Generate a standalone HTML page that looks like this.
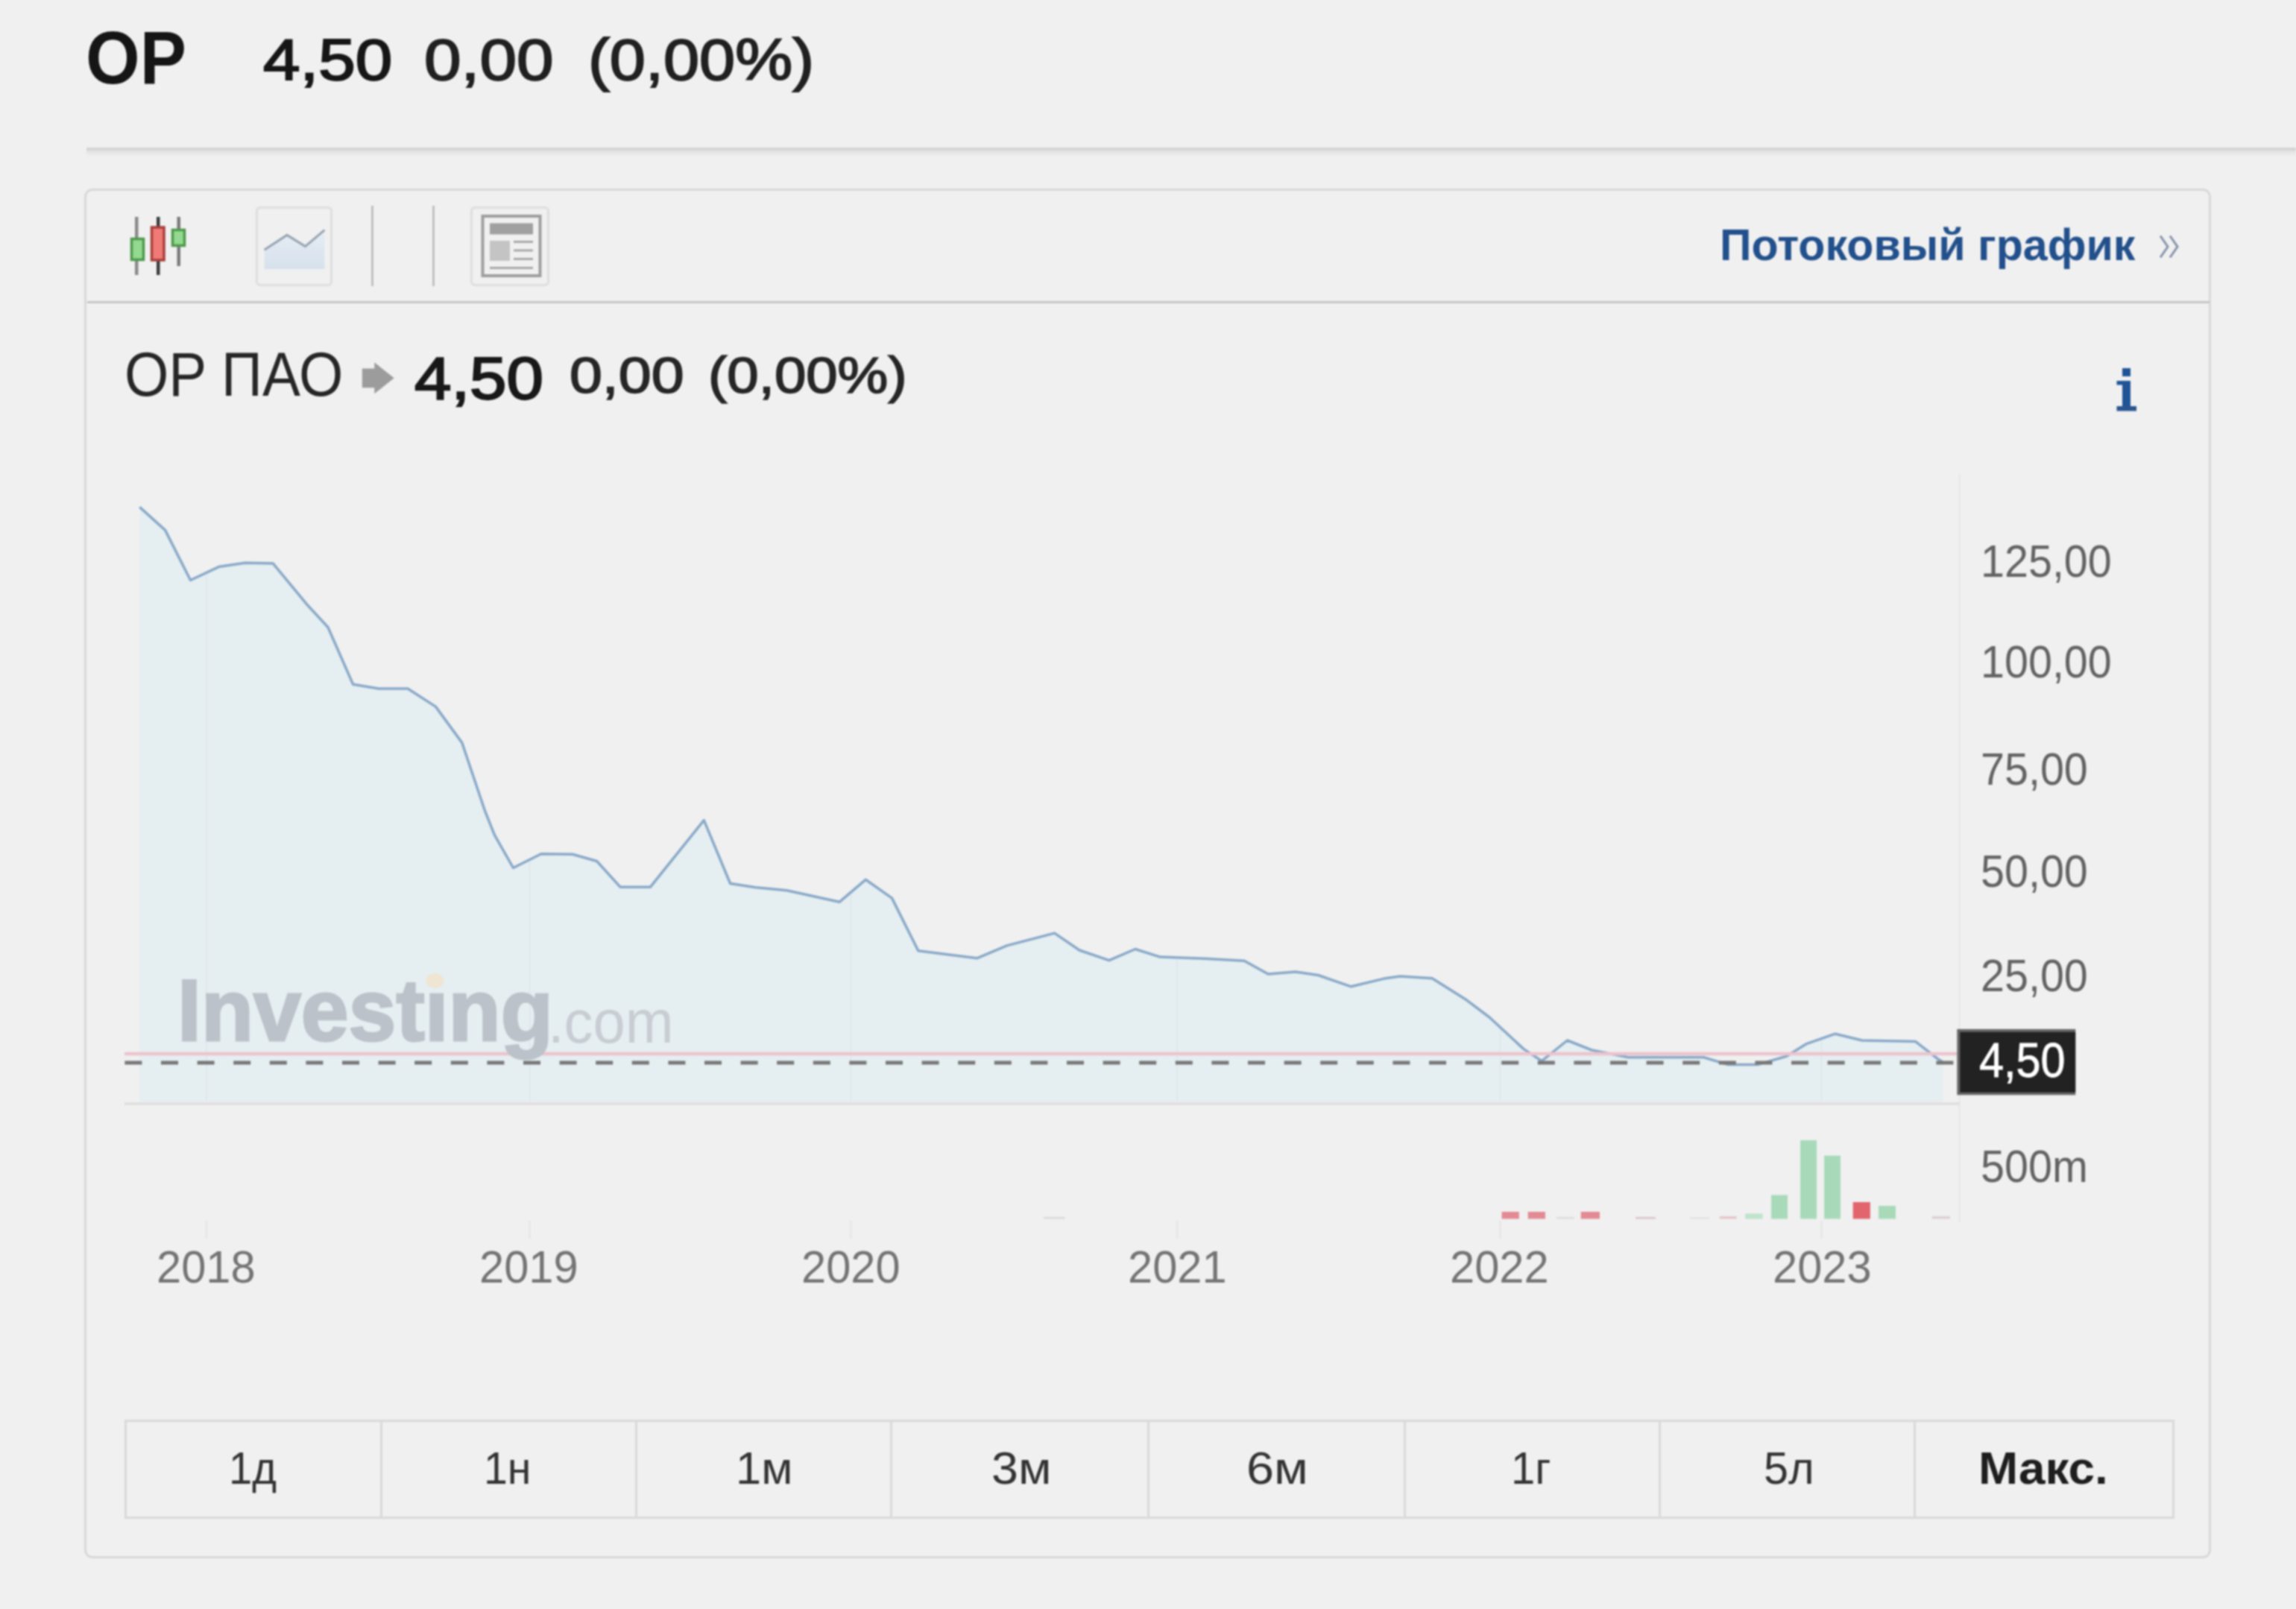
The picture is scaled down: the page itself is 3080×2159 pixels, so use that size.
<!DOCTYPE html>
<html><head><meta charset="utf-8">
<style>
html,body{margin:0;padding:0}
body{width:3080px;height:2159px;background:#f0f0f0;position:relative;overflow:hidden;font-family:"Liberation Sans",sans-serif}
.t{position:absolute;line-height:1;white-space:pre;transform-origin:0 0}
.abs{position:absolute}
</style></head><body>
<div id="w" style="position:absolute;left:0;top:0;width:3080px;height:2159px;background:#f0f0f0;filter:blur(0.8px)">
<!-- header rule -->
<div class="abs" style="left:116px;top:202px;width:2964px;height:8px;background:linear-gradient(#e2e2e2,#efefef)"></div>
<div class="abs" style="left:116px;top:198px;width:2964px;height:4px;background:#d5d5d5"></div>
<!-- chart box -->
<div class="abs" style="left:113px;top:253px;width:2847px;height:1832px;border:3.5px solid #d8d8d8;border-radius:11px"></div>
<div class="abs" style="left:116.5px;top:404px;width:2847px;height:3px;background:#c6c6c6"></div>
<!-- separators -->
<div class="abs" style="left:498px;top:276px;width:3px;height:108px;background:#c0c0c0"></div>
<div class="abs" style="left:579.5px;top:276px;width:3px;height:108px;background:#c0c0c0"></div>
<!-- icon boxes -->
<div class="abs" style="left:343px;top:276.5px;width:97px;height:101px;border:3px solid #dedede;border-radius:6px"></div>
<div class="abs" style="left:630.5px;top:276.5px;width:100px;height:101px;border:3px solid #dedede;border-radius:6px"></div>
<svg class="abs" style="left:0;top:0" width="3080" height="2159" viewBox="0 0 3080 2159">
<defs>
<clipPath id="fillclip"><path d="M187.3,680.4 L221.6,711.4 L255.5,778.5 L293.5,760.6 L329.0,755.3 L366.3,756.1 L411.0,810.2 L440.0,841.8 L473.6,918.3 L508.0,924.0 L547.0,924.0 L584.4,948.1 L619.8,996.6 L650.5,1088.0 L663.4,1120.4 L688.5,1164.5 L726.0,1145.7 L768.0,1146.3 L800.6,1155.5 L832.0,1190.2 L872.5,1190.2 L944.3,1100.6 L979.6,1185.5 L1013.6,1190.7 L1055.4,1194.7 L1126.0,1210.3 L1161.2,1180.3 L1196.5,1205.1 L1231.8,1275.7 L1311.0,1285.7 L1350.6,1268.9 L1414.6,1252.1 L1448.0,1275.0 L1487.8,1288.7 L1522.9,1273.5 L1556.4,1284.1 L1615.9,1286.3 L1669.2,1289.3 L1701.2,1307.0 L1737.8,1304.0 L1768.3,1308.5 L1812.5,1323.8 L1856.7,1313.1 L1878.0,1310.0 L1921.2,1312.7 L1965.3,1340.4 L1998.0,1365.0 L2043.7,1407.4 L2068.2,1423.7 L2102.5,1396.0 L2135.2,1409.0 L2184.2,1418.8 L2285.5,1418.8 L2318.2,1428.6 L2357.4,1428.6 L2396.6,1417.2 L2422.7,1400.9 L2461.9,1387.2 L2497.8,1396.0 L2569.7,1397.6 L2599.0,1420.5 L2606.0,1425.0 L2606.0,1478 L187.3,1478 Z"/></clipPath>
<linearGradient id="lg" x1="0" y1="0" x2="0" y2="1"><stop offset="0" stop-color="#e6edf5"/><stop offset="1" stop-color="#d6e1ec"/></linearGradient>
</defs>
<!-- candles -->
<rect x="181" y="291" width="4.5" height="78" fill="#8a8a8a"/>
<rect x="176.5" y="320.5" width="16" height="28" fill="#93d98f" stroke="#4e9a4c" stroke-width="3.5"/>
<rect x="210" y="291" width="4.5" height="78" fill="#3a3a3a"/>
<rect x="203.5" y="305" width="16.5" height="44" fill="#f07a76" stroke="#a8403c" stroke-width="3.5"/>
<rect x="237.5" y="291" width="4.5" height="66" fill="#7a7a7a"/>
<rect x="231.5" y="308.5" width="16" height="21" fill="#93d98f" stroke="#4e9a4c" stroke-width="3.5"/>
<!-- line icon -->
<path d="M354.6,335.2 L385,315.4 L409.5,330.6 L435.4,308.7 L435.4,361 L354.6,361 Z" fill="url(#lg)"/>
<path d="M354.6,335.2 L385,315.4 L409.5,330.6 L435.4,308.7" fill="none" stroke="#98a4b2" stroke-width="3"/>
<!-- table icon -->
<rect x="647.5" y="290" width="77" height="80" fill="none" stroke="#9e9e9e" stroke-width="4"/>
<rect x="657" y="299.5" width="58" height="15" fill="#a0a0a0"/>
<rect x="657" y="323" width="27" height="27" fill="#c4c4c4"/>
<rect x="689" y="323" width="26" height="3" fill="#a8a8a8"/>
<rect x="689" y="334.5" width="26" height="3" fill="#a8a8a8"/>
<rect x="689" y="346" width="26" height="3" fill="#a8a8a8"/>
<rect x="657" y="358" width="58" height="3" fill="#a8a8a8"/>
<!-- chevrons -->
<path d="M2898,316.5 L2908,331 L2898,345.5 M2911,316.5 L2921,331 L2911,345.5" fill="none" stroke="#8593aa" stroke-width="3"/>
<!-- title arrow -->
<path d="M485.8,494.4 H502.3 V486.3 L528.6,507.3 L502.3,528.3 V520.2 H485.8 Z" fill="#9c9c9c"/>
<!-- info i -->
<rect x="2847" y="494" width="11" height="11" fill="#1f5597"/>
<rect x="2847" y="511" width="11" height="38" fill="#1f5597"/>
<rect x="2839.5" y="511" width="8" height="5.5" fill="#1f5597"/>
<rect x="2839.5" y="545" width="26.5" height="6.5" fill="#2a5590"/>
<!-- plot -->
<line x1="2628.5" y1="636" x2="2628.5" y2="1640" stroke="#e6e6e6" stroke-width="2"/>
<path d="M187.3,680.4 L221.6,711.4 L255.5,778.5 L293.5,760.6 L329.0,755.3 L366.3,756.1 L411.0,810.2 L440.0,841.8 L473.6,918.3 L508.0,924.0 L547.0,924.0 L584.4,948.1 L619.8,996.6 L650.5,1088.0 L663.4,1120.4 L688.5,1164.5 L726.0,1145.7 L768.0,1146.3 L800.6,1155.5 L832.0,1190.2 L872.5,1190.2 L944.3,1100.6 L979.6,1185.5 L1013.6,1190.7 L1055.4,1194.7 L1126.0,1210.3 L1161.2,1180.3 L1196.5,1205.1 L1231.8,1275.7 L1311.0,1285.7 L1350.6,1268.9 L1414.6,1252.1 L1448.0,1275.0 L1487.8,1288.7 L1522.9,1273.5 L1556.4,1284.1 L1615.9,1286.3 L1669.2,1289.3 L1701.2,1307.0 L1737.8,1304.0 L1768.3,1308.5 L1812.5,1323.8 L1856.7,1313.1 L1878.0,1310.0 L1921.2,1312.7 L1965.3,1340.4 L1998.0,1365.0 L2043.7,1407.4 L2068.2,1423.7 L2102.5,1396.0 L2135.2,1409.0 L2184.2,1418.8 L2285.5,1418.8 L2318.2,1428.6 L2357.4,1428.6 L2396.6,1417.2 L2422.7,1400.9 L2461.9,1387.2 L2497.8,1396.0 L2569.7,1397.6 L2599.0,1420.5 L2606.0,1425.0 L2606.0,1478 L187.3,1478 Z" fill="#e5eef1"/>
<line x1="277" y1="640" x2="277" y2="1478" stroke="#e0e8eb" stroke-width="2" clip-path="url(#fillclip)"/>
<line x1="710.5" y1="640" x2="710.5" y2="1478" stroke="#e0e8eb" stroke-width="2" clip-path="url(#fillclip)"/>
<line x1="1141.5" y1="640" x2="1141.5" y2="1478" stroke="#e0e8eb" stroke-width="2" clip-path="url(#fillclip)"/>
<line x1="1579" y1="640" x2="1579" y2="1478" stroke="#e0e8eb" stroke-width="2" clip-path="url(#fillclip)"/>
<line x1="2012.5" y1="640" x2="2012.5" y2="1478" stroke="#e0e8eb" stroke-width="2" clip-path="url(#fillclip)"/>
<line x1="2443.5" y1="640" x2="2443.5" y2="1478" stroke="#e0e8eb" stroke-width="2" clip-path="url(#fillclip)"/>
<line x1="277" y1="1638" x2="277" y2="1662" stroke="#e6e6e6" stroke-width="2.5"/>
<line x1="710.5" y1="1638" x2="710.5" y2="1662" stroke="#e6e6e6" stroke-width="2.5"/>
<line x1="1141.5" y1="1638" x2="1141.5" y2="1662" stroke="#e6e6e6" stroke-width="2.5"/>
<line x1="1579" y1="1638" x2="1579" y2="1662" stroke="#e6e6e6" stroke-width="2.5"/>
<line x1="2012.5" y1="1638" x2="2012.5" y2="1662" stroke="#e6e6e6" stroke-width="2.5"/>
<line x1="2443.5" y1="1638" x2="2443.5" y2="1662" stroke="#e6e6e6" stroke-width="2.5"/>
<path d="M187.3,680.4 L221.6,711.4 L255.5,778.5 L293.5,760.6 L329.0,755.3 L366.3,756.1 L411.0,810.2 L440.0,841.8 L473.6,918.3 L508.0,924.0 L547.0,924.0 L584.4,948.1 L619.8,996.6 L650.5,1088.0 L663.4,1120.4 L688.5,1164.5 L726.0,1145.7 L768.0,1146.3 L800.6,1155.5 L832.0,1190.2 L872.5,1190.2 L944.3,1100.6 L979.6,1185.5 L1013.6,1190.7 L1055.4,1194.7 L1126.0,1210.3 L1161.2,1180.3 L1196.5,1205.1 L1231.8,1275.7 L1311.0,1285.7 L1350.6,1268.9 L1414.6,1252.1 L1448.0,1275.0 L1487.8,1288.7 L1522.9,1273.5 L1556.4,1284.1 L1615.9,1286.3 L1669.2,1289.3 L1701.2,1307.0 L1737.8,1304.0 L1768.3,1308.5 L1812.5,1323.8 L1856.7,1313.1 L1878.0,1310.0 L1921.2,1312.7 L1965.3,1340.4 L1998.0,1365.0 L2043.7,1407.4 L2068.2,1423.7 L2102.5,1396.0 L2135.2,1409.0 L2184.2,1418.8 L2285.5,1418.8 L2318.2,1428.6 L2357.4,1428.6 L2396.6,1417.2 L2422.7,1400.9 L2461.9,1387.2 L2497.8,1396.0 L2569.7,1397.6 L2599.0,1420.5 L2606.0,1425.0" fill="none" stroke="#89a9c8" stroke-width="3.5" stroke-linejoin="round"/>
<line x1="167" y1="1414" x2="2625" y2="1414" stroke="#ecc3cd" stroke-width="4.5"/>
<line x1="167.4" y1="1426" x2="2622" y2="1426" stroke="#777" stroke-width="5" stroke-dasharray="23 25.6"/>
<rect x="167" y="1479" width="2461" height="4" fill="#e0e0e0"/>
<rect x="1400" y="1633" width="28.5" height="2.5" fill="#d9d9d9"/>
<rect x="2014.6" y="1626" width="23.2" height="9.5" fill="#e38b94"/>
<rect x="2049.7" y="1626" width="23.2" height="9.5" fill="#e38b94"/>
<rect x="2087.8" y="1633" width="23.8" height="2.5" fill="#dcdcdc"/>
<rect x="2120.7" y="1626" width="25.3" height="9.5" fill="#e38b94"/>
<rect x="2194" y="1633" width="27.0" height="2.5" fill="#d9c4c8"/>
<rect x="2267" y="1633.5" width="26.0" height="2.0" fill="#e0e0e0"/>
<rect x="2306.7" y="1632" width="22.9" height="3.5" fill="#e6c6cb"/>
<rect x="2341" y="1628.5" width="23.6" height="7.0" fill="#bfe3cc"/>
<rect x="2376" y="1603.5" width="22.0" height="32.0" fill="#a8dab9"/>
<rect x="2415" y="1530" width="22.0" height="105.5" fill="#a8dab9"/>
<rect x="2447" y="1550.7" width="22.0" height="84.8" fill="#a8dab9"/>
<rect x="2485.7" y="1613" width="23.1" height="22.5" fill="#e2646d"/>
<rect x="2520" y="1618" width="23.0" height="17.5" fill="#a8dab9"/>
<rect x="2591.8" y="1632" width="24.2" height="3.5" fill="#dcd0d2"/>
<!-- price label box -->
<rect x="2625.3" y="1380.9" width="158.9" height="88.4" fill="#666"/>
<rect x="2629.3" y="1384.8" width="154.9" height="81" fill="#222"/>
</svg>
<div class="t" style="left:114.8px;top:27.1px;font-size:100.58px;font-weight:700;color:#151515;transform:scaleX(0.9289)">OP</div>
<div class="t" style="left:352.5px;top:40.8px;font-size:78.45px;font-weight:400;color:#161616;transform:scaleX(1.1351);-webkit-text-stroke:2.2px #161616">4,50</div>
<div class="t" style="left:569.1px;top:40.7px;font-size:78.73px;font-weight:400;color:#202020;transform:scaleX(1.1329);-webkit-text-stroke:2.0px #202020">0,00</div>
<div class="t" style="left:789.3px;top:40.7px;font-size:78.73px;font-weight:400;color:#202020;transform:scaleX(1.0991);-webkit-text-stroke:2.0px #202020">(0,00%)</div>
<div class="t" style="left:2306.9px;top:299.1px;font-size:59.42px;font-weight:700;color:#22508c;transform:scaleX(0.9954)">Потоковый график</div>
<div class="t" style="left:167.1px;top:462.1px;font-size:82.61px;font-weight:400;color:#262626;transform:scaleX(0.9236)">OP ПАО</div>
<div class="t" style="left:555.5px;top:467.8px;font-size:79.01px;font-weight:400;color:#181818;transform:scaleX(1.1250);-webkit-text-stroke:2.3px #181818">4,50</div>
<div class="t" style="left:764.0px;top:468.9px;font-size:68.17px;font-weight:400;color:#262626;transform:scaleX(1.1571);-webkit-text-stroke:1.7px #262626">0,00</div>
<div class="t" style="left:949.9px;top:468.9px;font-size:68.17px;font-weight:400;color:#262626;transform:scaleX(1.1176);-webkit-text-stroke:1.7px #262626">(0,00%)</div>
<div class="t" style="left:2654.9px;top:1390.7px;font-size:64.65px;font-weight:400;color:#ffffff;transform:scaleX(0.9175);-webkit-text-stroke:0.8px #ffffff">4,50</div>
<div class="t" style="left:237.5px;top:1297.6px;font-size:116.96px;font-weight:700;color:#bcc2c9;transform:scaleX(0.9812);-webkit-text-stroke:3px #bcc2c9">Investıng</div>
<div class="t" style="left:735.0px;top:1329.6px;font-size:81.82px;font-weight:400;color:#c8cdd3;transform:scaleX(0.9510)">.com</div>
<div class="t" style="left:2657.4px;top:722.6px;font-size:60.50px;font-weight:400;color:#636363;transform:scaleX(0.9500)">125,00</div>
<div class="t" style="left:2657.4px;top:857.9px;font-size:60.50px;font-weight:400;color:#636363;transform:scaleX(0.9500)">100,00</div>
<div class="t" style="left:2656.7px;top:1002.2px;font-size:60.50px;font-weight:400;color:#636363;transform:scaleX(0.9500)">75,00</div>
<div class="t" style="left:2657.3px;top:1138.7px;font-size:60.50px;font-weight:400;color:#636363;transform:scaleX(0.9500)">50,00</div>
<div class="t" style="left:2656.7px;top:1279.3px;font-size:60.50px;font-weight:400;color:#636363;transform:scaleX(0.9500)">25,00</div>
<div class="t" style="left:2657.3px;top:1534.5px;font-size:60.50px;font-weight:400;color:#636363;transform:scaleX(0.9500)">500m</div>
<div class="t" style="left:210.0px;top:1669.9px;font-size:60.50px;font-weight:400;color:#747474;transform:scaleX(0.9850)">2018</div>
<div class="t" style="left:643.0px;top:1669.9px;font-size:60.50px;font-weight:400;color:#747474;transform:scaleX(0.9850)">2019</div>
<div class="t" style="left:1075.0px;top:1669.9px;font-size:60.50px;font-weight:400;color:#747474;transform:scaleX(0.9850)">2020</div>
<div class="t" style="left:1512.6px;top:1669.9px;font-size:60.50px;font-weight:400;color:#747474;transform:scaleX(0.9850)">2021</div>
<div class="t" style="left:1945.0px;top:1669.9px;font-size:60.50px;font-weight:400;color:#747474;transform:scaleX(0.9850)">2022</div>
<div class="t" style="left:2377.5px;top:1669.9px;font-size:60.50px;font-weight:400;color:#747474;transform:scaleX(0.9850)">2023</div>
<div class="t" style="left:306.6px;top:1938.8px;font-size:61.45px;font-weight:400;color:#333;transform:scaleX(0.9154)">1д</div>
<div class="t" style="left:649.4px;top:1938.8px;font-size:61.45px;font-weight:400;color:#333;transform:scaleX(0.9323)">1н</div>
<div class="t" style="left:987.4px;top:1938.8px;font-size:61.45px;font-weight:400;color:#333;transform:scaleX(0.9988)">1м</div>
<div class="t" style="left:1330.4px;top:1938.8px;font-size:61.45px;font-weight:400;color:#333;transform:scaleX(1.0513)">3м</div>
<div class="t" style="left:1672.1px;top:1938.8px;font-size:61.45px;font-weight:400;color:#333;transform:scaleX(1.0839)">6м</div>
<div class="t" style="left:2027.0px;top:1938.8px;font-size:61.45px;font-weight:400;color:#333;transform:scaleX(0.9443)">1г</div>
<div class="t" style="left:2366.4px;top:1938.8px;font-size:61.45px;font-weight:400;color:#333;transform:scaleX(0.9669)">5л</div>
<div class="t" style="left:2654.4px;top:1938.8px;font-size:61.45px;font-weight:700;color:#1e1e1e;transform:scaleX(1.0389)">Макс.</div>
<svg class="abs" style="left:0;top:0" width="3080" height="2159" viewBox="0 0 3080 2159">
<ellipse cx="583.5" cy="1316" rx="12" ry="10" fill="#efe5d2"/>
</svg>
<!-- period buttons -->
<div class="abs" style="left:166.5px;top:1904.5px;width:2744px;height:127px;border:3px solid #d9d9d9"></div>
<div class="abs" style="left:509.9px;top:1906px;width:3px;height:129px;background:#d9d9d9"></div>
<div class="abs" style="left:851.8px;top:1906px;width:3px;height:129px;background:#d9d9d9"></div>
<div class="abs" style="left:1194.1px;top:1906px;width:3px;height:129px;background:#d9d9d9"></div>
<div class="abs" style="left:1538.5px;top:1906px;width:3px;height:129px;background:#d9d9d9"></div>
<div class="abs" style="left:1882.7px;top:1906px;width:3px;height:129px;background:#d9d9d9"></div>
<div class="abs" style="left:2225.1px;top:1906px;width:3px;height:129px;background:#d9d9d9"></div>
<div class="abs" style="left:2567.0px;top:1906px;width:3px;height:129px;background:#d9d9d9"></div>
</div>
</body></html>
